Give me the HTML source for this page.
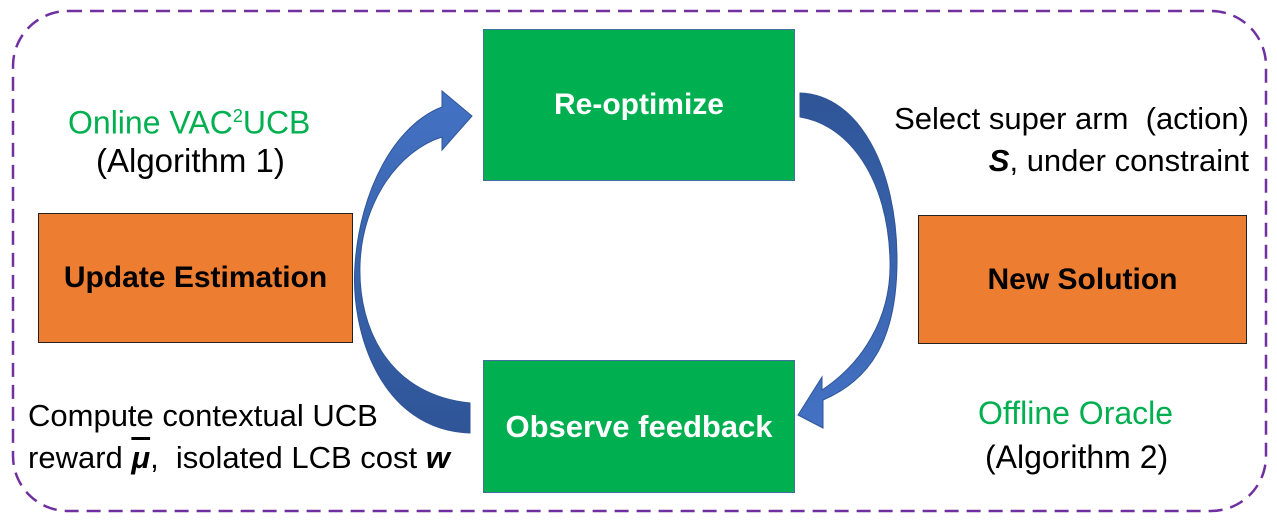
<!DOCTYPE html>
<html><head><style>
body{margin:0;width:1277px;height:522px;background:#fff;position:relative;font-family:"Liberation Sans",sans-serif;overflow:hidden}
.t{position:absolute;font-size:31px;color:#000;white-space:nowrap;line-height:36px}
.b{position:absolute;display:flex;align-items:center;justify-content:center;font-weight:bold;font-size:30px;white-space:nowrap;box-sizing:border-box}
.g{background:#00B050;border:1.5px solid #41719C;color:#fff}
.o{background:#ED7D31;border:1.5px solid #222;color:#000}
</style></head><body>
<svg width="1277" height="522" style="position:absolute;left:0;top:0">
<defs>
<linearGradient id="lg" x1="0" y1="1" x2="0" y2="0"><stop offset="0" stop-color="#2F5597"/><stop offset="1" stop-color="#4472C4"/></linearGradient>
<linearGradient id="rg" x1="0" y1="0" x2="0" y2="1"><stop offset="0" stop-color="#2F5597"/><stop offset="1" stop-color="#4472C4"/></linearGradient>
</defs>
<rect x="13" y="11" width="1253" height="500" rx="55" fill="none" stroke="#7030A0" stroke-width="2.5" stroke-dasharray="14,8"/>
<path d="M470,433 C380,430 350,330 355,265 C360,190 395,125 442,107 L442,91 L472,116 L442,150 L442,137 C400,150 362,200 360,265 C358,330 390,395 470,403 Z" fill="url(#lg)" stroke="#2F5597" stroke-width="1"/>
<path d="M800,93 C860,95 897,170 897,260 C897,340 870,380 823,400 L823,428 L798,415 L822,377 L822,390 C860,365 892,320 890,260 C888,180 850,125 800,117 Z" fill="url(#rg)" stroke="#2F5597" stroke-width="1"/>
</svg>
<div class="b g" style="left:483px;top:29px;width:312px;height:152px">Re-optimize</div>
<div class="b g" style="left:483px;top:360px;width:312px;height:133px;font-size:31px">Observe feedback</div>
<div class="b o" style="left:38px;top:213px;width:315px;height:130px">Update Estimation</div>
<div class="b o" style="left:918px;top:215px;width:329px;height:129px">New Solution</div>
<div class="t" style="left:68px;top:98px;color:#00B050;font-size:32px">Online VAC<sup style="font-size:18px">2</sup>UCB</div>
<div class="t" style="left:96px;top:143px;font-size:33px">(Algorithm 1)</div>
<div class="t" style="right:28px;top:101px">Select super arm&nbsp; (action)</div>
<div class="t" style="right:28px;top:143px"><b><i>S</i></b>, under constraint</div>
<div class="t" style="left:28px;top:398px">Compute contextual UCB</div>
<div class="t" style="left:28px;top:440px">reward <b><i style="text-decoration:overline">μ</i></b>,&nbsp; isolated LCB cost <b><i>w</i></b></div>
<div class="t" style="left:978px;top:395px;color:#00B050;font-size:32px">Offline Oracle</div>
<div class="t" style="left:985px;top:439px;font-size:32px">(Algorithm 2)</div>
</body></html>
